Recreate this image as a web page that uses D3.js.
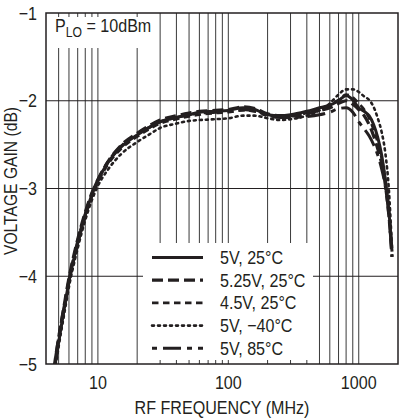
<!DOCTYPE html>
<html>
<head>
<meta charset="utf-8">
<script src="https://cdn.jsdelivr.net/npm/d3@7"></script>
<style>
html,body{margin:0;padding:0;background:#fff;}
svg{display:block;}
text{font-family:"Liberation Sans",Arial,Helvetica,sans-serif;fill:#231f20;}
</style>
</head>
<body>
<svg id="chart" width="403" height="420"></svg>
<script>
// ---- data ----
const freqMHz = [4.6, 5, 5.5, 6, 7, 8, 9, 10, 12, 15, 20, 25, 30, 40, 50, 60, 80, 100, 130, 160, 200, 250, 300, 400, 500, 600, 700, 800, 900, 1000, 1100, 1200, 1300, 1400, 1500, 1600, 1700, 1800];
const gain5V25C   = [-5.1, -4.75, -4.38, -4.06, -3.62, -3.3, -3.07, -2.91, -2.7, -2.53, -2.39, -2.3, -2.24, -2.19, -2.16, -2.13, -2.12, -2.11, -2.08, -2.1, -2.16, -2.17, -2.16, -2.12, -2.08, -2.05, -2.0, -1.94, -1.99, -2.08, -2.12, -2.17, -2.27, -2.42, -2.62, -2.9, -3.25, -3.72];
const gain525V25C = [-5.05, -4.7, -4.34, -4.02, -3.58, -3.27, -3.05, -2.9, -2.69, -2.51, -2.37, -2.28, -2.22, -2.17, -2.14, -2.12, -2.11, -2.1, -2.07, -2.09, -2.15, -2.17, -2.17, -2.15, -2.11, -2.08, -2.03, -2.0, -2.04, -2.1, -2.17, -2.27, -2.4, -2.55, -2.72, -2.96, -3.3, -3.78];
const gain45V25C  = [-5.1, -4.76, -4.4, -4.08, -3.64, -3.32, -3.09, -2.93, -2.72, -2.55, -2.41, -2.32, -2.26, -2.21, -2.18, -2.16, -2.14, -2.13, -2.11, -2.12, -2.17, -2.19, -2.18, -2.14, -2.09, -2.05, -1.99, -1.93, -1.96, -2.03, -2.1, -2.2, -2.33, -2.48, -2.66, -2.9, -3.22, -3.68];
const gain5Vm40C  = [-5.15, -4.8, -4.44, -4.12, -3.68, -3.36, -3.13, -2.97, -2.78, -2.61, -2.47, -2.38, -2.31, -2.26, -2.23, -2.22, -2.21, -2.2, -2.17, -2.17, -2.2, -2.22, -2.21, -2.17, -2.11, -2.03, -1.93, -1.87, -1.87, -1.9, -1.95, -1.99, -2.07, -2.2, -2.36, -2.6, -3.0, -3.7];
const gain5V85C   = [-5.05, -4.7, -4.35, -4.04, -3.6, -3.29, -3.06, -2.9, -2.69, -2.52, -2.38, -2.3, -2.24, -2.19, -2.16, -2.14, -2.13, -2.12, -2.1, -2.12, -2.17, -2.19, -2.19, -2.18, -2.16, -2.13, -2.09, -2.08, -2.13, -2.24, -2.32, -2.4, -2.5, -2.62, -2.78, -2.98, -3.3, -3.78];
const seriesNames = ["5V, 25°C", "5.25V, 25°C", "4.5V, 25°C", "5V, \u221240°C", "5V, 85°C"];
const xTickValues = [10, 100, 1000];
const xTickLabels = ["10", "100", "1000"];
const yTickValues = [-1, -2, -3, -4, -5];
const yTickLabels = ["\u22121", "\u22122", "\u22123", "\u22124", "\u22125"];
const xGridValues = [5, 6, 7, 8, 9, 10, 20, 30, 40, 50, 60, 70, 80, 90, 100, 200, 300, 400, 500, 600, 700, 800, 900, 1000];

// ---- styles ----
const seriesStyles = [
  {dash: null, width: 3},
  {dash: "11,5", width: 3.2},
  {dash: "6.5,4.5", width: 2.6},
  {dash: "2,4", width: 2.6},
  {dash: "5,6,18,6", width: 3}
];
const ink = "#231f20";
const SX = 0.87; // horizontal condensing of text

const svg = d3.select("#chart");
const x = d3.scaleLog().domain([4, 2000]).range([46, 398]);
const y = d3.scaleLinear().domain([-5, -1]).range([364, 13]);
const [L, R] = x.range();
const [B, T] = y.range();

function addText(parent, tx, ty, str, size, anchor, rot) {
  const t = parent.append("text")
    .attr("transform", `translate(${tx},${ty})` + (rot ? ` rotate(${rot})` : "") + ` scale(${SX},1)`)
    .attr("text-anchor", anchor || "start")
    .style("font-size", size + "px");
  if (str !== null) t.text(str);
  return t;
}

// boxes (label & legend) in pixel layout
const labelBox = {x0: L, x1: 155, y0: T, y1: 48};
const legendBox = {x0: 143, x1: 313, y0: 243, y1: B};

const grid = svg.append("g");
xGridValues.forEach(v => {
  const px = x(v);
  let segs = [[T, B]];
  if (px > labelBox.x0 && px < labelBox.x1) segs = [[T, T + 4], [labelBox.y1, B]];
  if (px > legendBox.x0 && px < legendBox.x1) segs = segs.map(s => [s[0], Math.min(s[1], legendBox.y0)]).concat([[B - 4, B]]);
  segs.forEach(s => {
    grid.append("line").attr("x1", px).attr("x2", px).attr("y1", s[0]).attr("y2", s[1])
      .attr("stroke", "#3a3a3a").attr("stroke-width", 1);
  });
});
[-2, -3, -4].forEach(v => {
  const py = y(v);
  let segs = [[L, R]];
  if (py > legendBox.y0) segs = [[L, legendBox.x0], [legendBox.x1, R]];
  segs.forEach(s => {
    grid.append("line").attr("x1", s[0]).attr("x2", s[1]).attr("y1", py).attr("y2", py)
      .attr("stroke", ink).attr("stroke-width", 1.2);
  });
});
svg.append("rect").attr("x", L).attr("y", T).attr("width", R - L).attr("height", B - T)
  .attr("fill", "none").attr("stroke", ink).attr("stroke-width", 1.5);

// curves
svg.append("clipPath").attr("id", "clip").append("rect")
  .attr("x", L).attr("y", T).attr("width", R - L).attr("height", B - T);
const allSeries = [gain5V25C, gain525V25C, gain45V25C, gain5Vm40C, gain5V85C];
const line = d3.line().x(d => x(d[0])).y(d => y(d[1])).curve(d3.curveMonotoneX);
const curves = svg.append("g").attr("clip-path", "url(#clip)");
[3, 2, 4, 1, 0].forEach(i => {
  const pts = freqMHz.map((f, j) => [f, allSeries[i][j]]);
  curves.append("path").attr("d", line(pts)).attr("fill", "none")
    .attr("stroke", ink).attr("stroke-width", seriesStyles[i].width)
    .attr("stroke-dasharray", seriesStyles[i].dash)
    .attr("stroke-linecap", i === 3 ? "round" : "butt")
    .attr("stroke-linejoin", "round");
});

// label P_LO
const pl = addText(svg, 55, 32, null, 18.5, "start");
pl.append("tspan").text("P");
pl.append("tspan").attr("dy", 5).style("font-size", "14px").text("LO");
pl.append("tspan").attr("dy", -5).text(" = 10dBm");

// legend
const leg = svg.append("g");
seriesNames.forEach((name, i) => {
  const ly = 257.5 + i * 22.7;
  leg.append("line").attr("x1", 152).attr("x2", 203).attr("y1", ly).attr("y2", ly)
    .attr("stroke", ink).attr("stroke-width", seriesStyles[i].width)
    .attr("stroke-dasharray", seriesStyles[i].dash)
    .attr("stroke-linecap", i === 3 ? "round" : "butt");
  addText(leg, 220, ly + 6.5, name, 18.5, "start");
});

// axis tick labels
xTickValues.forEach((v, i) => addText(svg, x(v), 389, xTickLabels[i], 18.5, "middle"));
yTickValues.forEach((v, i) => addText(svg, 37, y(v) + 6.5, yTickLabels[i], 18.5, "end"));

// axis titles
addText(svg, 222, 414, "RF FREQUENCY (MHz)", 18.5, "middle");
addText(svg, 17, 181, "VOLTAGE GAIN (dB)", 18, "middle", -90);
</script>
</body>
</html>
